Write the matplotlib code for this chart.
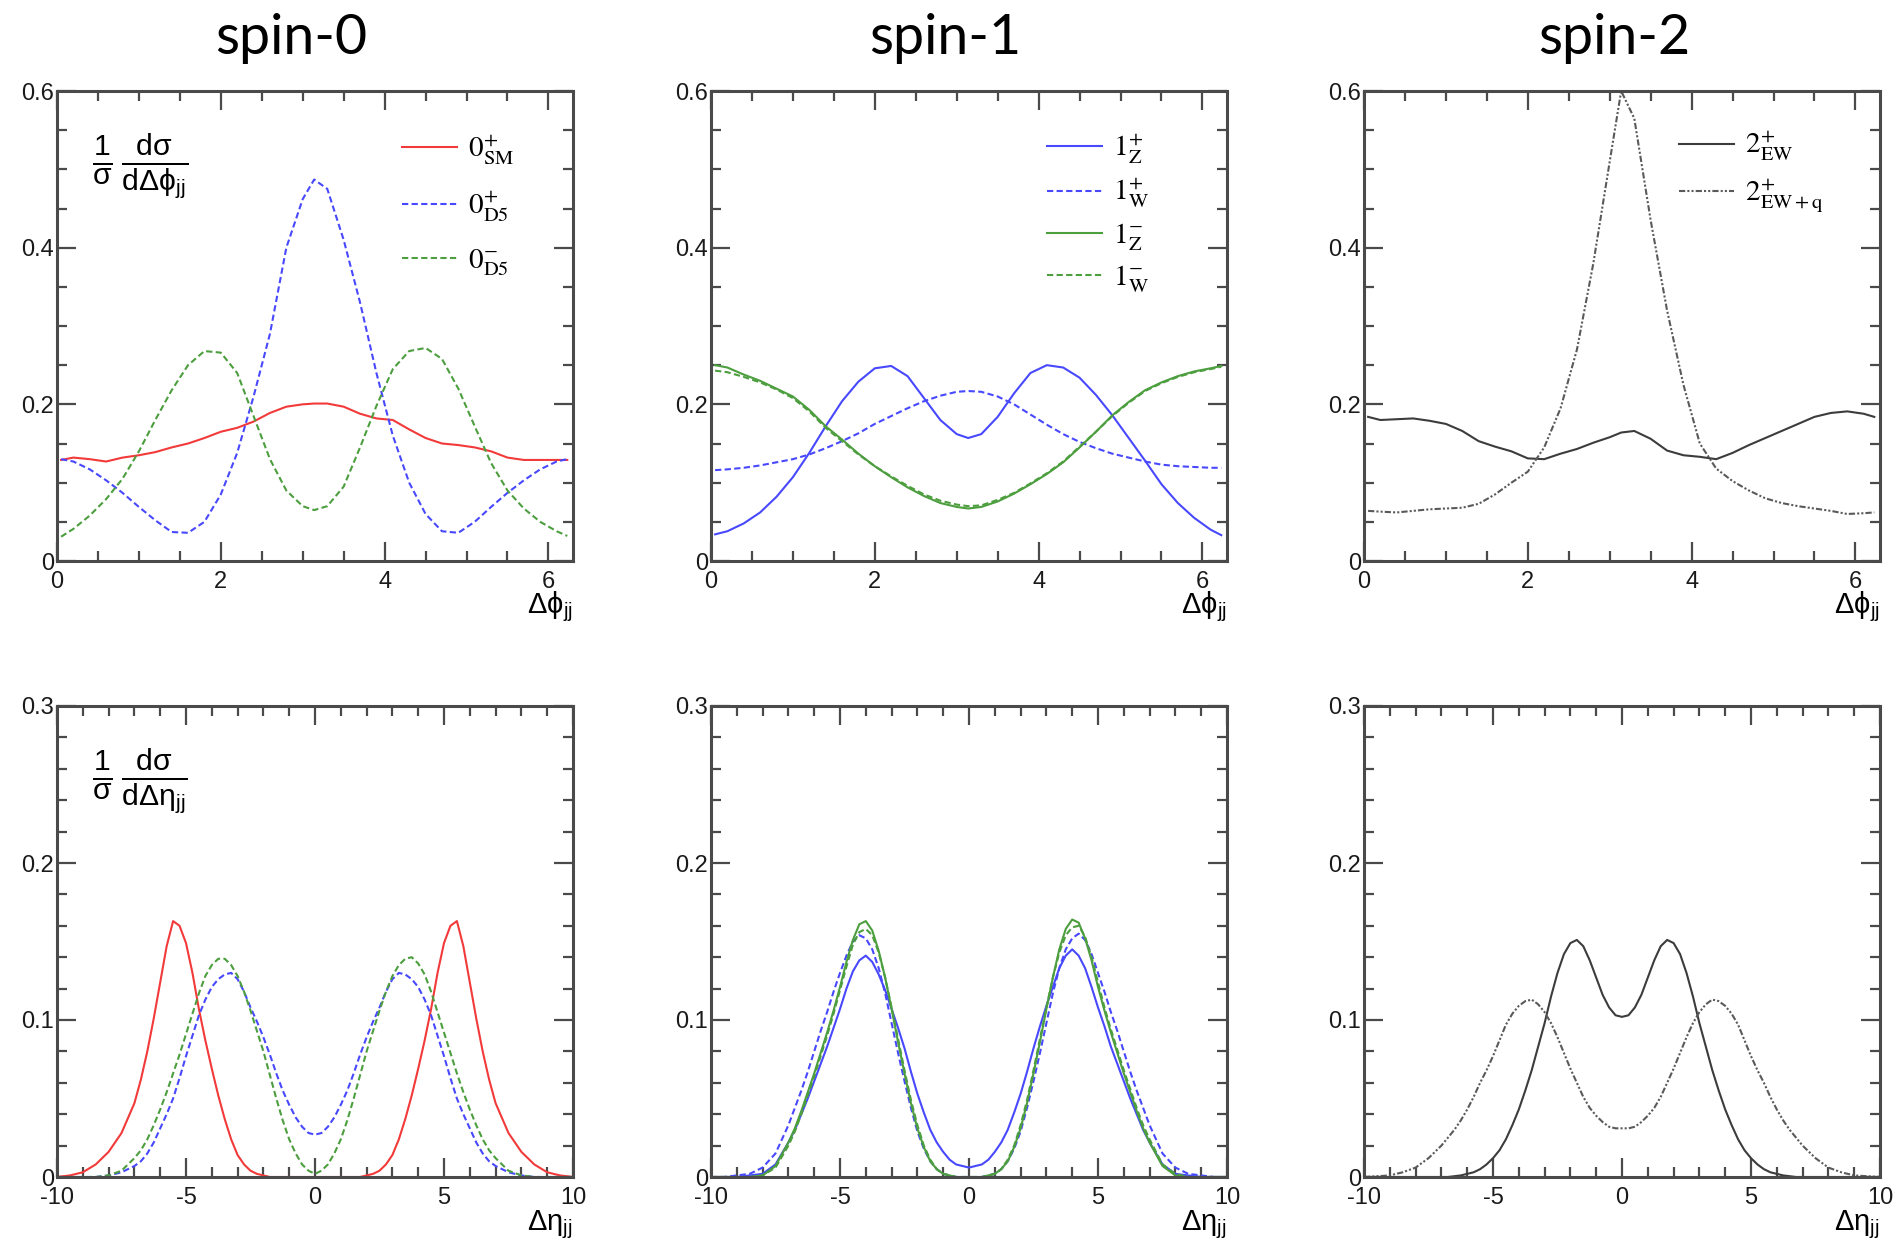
import matplotlib
matplotlib.use("Agg")
import numpy as np
import matplotlib.pyplot as plt
from matplotlib.ticker import MultipleLocator, FuncFormatter

plt.rcParams['font.family'] = ['Liberation Sans', 'DejaVu Sans']
plt.rcParams['axes.unicode_minus'] = False
plt.rcParams['mathtext.fontset'] = 'custom'
plt.rcParams['mathtext.rm'] = 'Liberation Sans'
plt.rcParams['mathtext.it'] = 'Liberation Sans:italic'
plt.rcParams['mathtext.bf'] = 'Liberation Sans:bold'

# ---------------- data ----------------
phi = [0.05, 0.2, 0.4, 0.6, 0.8, 1.0, 1.2, 1.4,
       1.6, 1.8, 2.0, 2.2, 2.4, 2.6, 2.8, 3.0,
       3.14, 3.3, 3.5, 3.7, 3.9, 4.1, 4.3, 4.5,
       4.7, 4.9, 5.1, 5.3, 5.5, 5.7, 5.9, 6.1,
       6.23]

# spin-0, dphi
phi_0p_sm = [0.129, 0.132, 0.130, 0.127, 0.132, 0.135, 0.139, 0.145,
             0.150, 0.157, 0.165, 0.170, 0.178, 0.189, 0.197, 0.200,
             0.201, 0.201, 0.197, 0.188, 0.182, 0.180, 0.168, 0.157,
             0.150, 0.148, 0.145, 0.140, 0.132, 0.129, 0.129, 0.129,
             0.129]
phi_0p_d5 = [0.130, 0.127, 0.117, 0.103, 0.087, 0.069, 0.052, 0.037,
             0.036, 0.050, 0.085, 0.138, 0.210, 0.290, 0.400, 0.462,
             0.487, 0.475, 0.410, 0.330, 0.240, 0.160, 0.100, 0.060,
             0.038, 0.036, 0.050, 0.069, 0.087, 0.103, 0.117, 0.127,
             0.130]
phi_0m_d5 = [0.031, 0.041, 0.058, 0.079, 0.105, 0.140, 0.180, 0.218,
             0.250, 0.268, 0.266, 0.240, 0.185, 0.130, 0.090, 0.070,
             0.065, 0.070, 0.095, 0.145, 0.198, 0.245, 0.268, 0.272,
             0.258, 0.220, 0.172, 0.125, 0.090, 0.067, 0.050, 0.038,
             0.032]

# spin-1, dphi
phi_1p_z = [0.034, 0.038, 0.048, 0.062, 0.082, 0.107, 0.138, 0.172,
            0.204, 0.229, 0.246, 0.249, 0.236, 0.208, 0.180, 0.162,
            0.157, 0.162, 0.184, 0.214, 0.240, 0.250, 0.247, 0.234,
            0.212, 0.186, 0.157, 0.128, 0.098, 0.074, 0.055, 0.040,
            0.033]
phi_1p_w = [0.116, 0.117, 0.119, 0.122, 0.126, 0.130, 0.136, 0.144,
            0.153, 0.163, 0.175, 0.185, 0.195, 0.204, 0.211, 0.216,
            0.217, 0.216, 0.210, 0.200, 0.187, 0.174, 0.162, 0.152,
            0.144, 0.137, 0.132, 0.127, 0.123, 0.121, 0.120, 0.119,
            0.119]
phi_1m_z = [0.250, 0.247, 0.238, 0.230, 0.220, 0.210, 0.193, 0.172,
            0.155, 0.137, 0.121, 0.107, 0.094, 0.083, 0.074, 0.069,
            0.067, 0.069, 0.076, 0.086, 0.098, 0.111, 0.126, 0.145,
            0.165, 0.186, 0.203, 0.218, 0.228, 0.236, 0.242, 0.246,
            0.249]
phi_1m_w = [0.243, 0.241, 0.235, 0.228, 0.219, 0.208, 0.191, 0.170,
            0.153, 0.136, 0.121, 0.108, 0.096, 0.085, 0.077, 0.072,
            0.070, 0.071, 0.078, 0.087, 0.099, 0.112, 0.127, 0.146,
            0.165, 0.185, 0.202, 0.217, 0.227, 0.235, 0.241, 0.245,
            0.248]

# spin-2, dphi
phi_2p_ew = [0.184, 0.180, 0.181, 0.182, 0.179, 0.175, 0.166, 0.153,
             0.146, 0.140, 0.131, 0.130, 0.137, 0.143, 0.151, 0.158,
             0.164, 0.166, 0.156, 0.141, 0.135, 0.133, 0.130, 0.138,
             0.148, 0.157, 0.166, 0.175, 0.184, 0.189, 0.191, 0.188,
             0.184]
phi_2p_ewq = [0.064, 0.063, 0.062, 0.064, 0.066, 0.067, 0.068, 0.073,
              0.085, 0.100, 0.114, 0.145, 0.195, 0.270, 0.380, 0.510,
              0.600, 0.565, 0.435, 0.320, 0.225, 0.150, 0.118, 0.102,
              0.090, 0.080, 0.074, 0.070, 0.067, 0.064, 0.060, 0.061,
              0.062]

# deta grid: coarse in the tails, 0.25 steps in the middle
eta = [-10, -9.5, -9, -8.5, -8, -7.5] + list(np.arange(-7, 7.01, 0.25)) + [7.5, 8, 8.5, 9, 9.5, 10]

# spin-0, deta
eta_0p_sm = ([0, 0.001, 0.003, 0.008, 0.016, 0.028] +
             [0.047, 0.062, 0.080, 0.101, 0.124, 0.147, 0.163, 0.160, 0.149, 0.130, 0.107, 0.087, 0.069,
              0.052, 0.037, 0.024, 0.014, 0.008, 0.004, 0.002, 0.001, 0, 0, 0, 0, 0, 0, 0, 0] +
             [0, 0, 0, 0, 0, 0, 0, 0.001, 0.002, 0.004, 0.008, 0.014, 0.024, 0.037, 0.052, 0.069, 0.087,
              0.107, 0.130, 0.149, 0.160, 0.163, 0.147, 0.124, 0.101, 0.080, 0.062, 0.047] +
             [0.028, 0.016, 0.008, 0.003, 0.001, 0])
eta_0p_d5 = ([0, 0, 0, 0, 0.001, 0.003] +
             [0.007, 0.010, 0.015, 0.022, 0.031, 0.040, 0.050, 0.063, 0.077, 0.090, 0.103, 0.113, 0.121,
              0.126, 0.129, 0.130, 0.126, 0.118, 0.108, 0.099, 0.089, 0.078, 0.066, 0.055, 0.046, 0.038,
              0.032, 0.028, 0.027] +
             [0.028, 0.032, 0.038, 0.046, 0.055, 0.066, 0.078, 0.089, 0.099, 0.108, 0.118, 0.126, 0.130,
              0.129, 0.126, 0.121, 0.113, 0.103, 0.090, 0.077, 0.063, 0.050, 0.040, 0.031, 0.022, 0.015,
              0.010, 0.007] +
             [0.003, 0.001, 0, 0, 0, 0])
eta_0m_d5 = ([0, 0, 0, 0, 0.001, 0.004] +
             [0.012, 0.017, 0.024, 0.033, 0.043, 0.054, 0.066, 0.078, 0.091, 0.104, 0.117, 0.128, 0.135,
              0.139, 0.139, 0.135, 0.128, 0.118, 0.106, 0.093, 0.080, 0.065, 0.050, 0.036, 0.024, 0.015,
              0.008, 0.004, 0.002] +
             [0.004, 0.008, 0.015, 0.024, 0.036, 0.050, 0.065, 0.080, 0.093, 0.106, 0.118, 0.128, 0.135,
              0.139, 0.140, 0.136, 0.129, 0.118, 0.105, 0.092, 0.079, 0.066, 0.054, 0.043, 0.033, 0.024,
              0.017, 0.012] +
             [0.004, 0.001, 0, 0, 0, 0])

# spin-1, deta
eta_1p_z = ([0, 0, 0, 0.001, 0.002, 0.008] +
            [0.022, 0.030, 0.040, 0.050, 0.061, 0.072, 0.083, 0.095, 0.107, 0.120, 0.131, 0.138, 0.141,
             0.137, 0.129, 0.119, 0.107, 0.095, 0.082, 0.067, 0.053, 0.041, 0.030, 0.022, 0.016, 0.011,
             0.008, 0.007, 0.006] +
            [0.007, 0.008, 0.011, 0.016, 0.022, 0.030, 0.041, 0.053, 0.067, 0.082, 0.096, 0.109, 0.121,
             0.133, 0.141, 0.145, 0.141, 0.133, 0.121, 0.108, 0.096, 0.083, 0.072, 0.061, 0.050, 0.040,
             0.030, 0.022] +
            [0.008, 0.002, 0.001, 0, 0, 0])
eta_1p_w = ([0, 0, 0.001, 0.002, 0.006, 0.015] +
            [0.033, 0.044, 0.055, 0.067, 0.080, 0.093, 0.105, 0.118, 0.130, 0.141, 0.150, 0.154, 0.152,
             0.145, 0.133, 0.117, 0.098, 0.079, 0.061, 0.044, 0.029, 0.018, 0.010, 0.005, 0.002, 0.001,
             0, 0, 0] +
            [0, 0, 0.001, 0.002, 0.005, 0.010, 0.018, 0.029, 0.044, 0.061, 0.079, 0.098, 0.117, 0.133,
             0.145, 0.152, 0.155, 0.151, 0.142, 0.130, 0.118, 0.105, 0.093, 0.080, 0.067, 0.055, 0.044,
             0.033] +
            [0.015, 0.006, 0.002, 0.001, 0, 0])
eta_1m_z = ([0, 0, 0, 0, 0.001, 0.007] +
            [0.022, 0.031, 0.042, 0.054, 0.066, 0.079, 0.092, 0.106, 0.121, 0.137, 0.151, 0.161, 0.163,
             0.157, 0.144, 0.127, 0.107, 0.086, 0.066, 0.047, 0.031, 0.019, 0.010, 0.005, 0.002, 0.001,
             0, 0, 0] +
            [0, 0, 0.001, 0.002, 0.005, 0.010, 0.019, 0.031, 0.047, 0.066, 0.086, 0.107, 0.127, 0.145,
             0.158, 0.164, 0.162, 0.152, 0.138, 0.121, 0.106, 0.092, 0.079, 0.066, 0.054, 0.042, 0.031,
             0.022] +
            [0.007, 0.001, 0, 0, 0, 0])
eta_1m_w = ([0, 0, 0, 0, 0.001, 0.006] +
            [0.020, 0.029, 0.040, 0.052, 0.064, 0.077, 0.090, 0.104, 0.119, 0.134, 0.148, 0.156, 0.158,
             0.154, 0.143, 0.127, 0.108, 0.088, 0.068, 0.049, 0.033, 0.020, 0.011, 0.005, 0.002, 0.001,
             0, 0, 0] +
            [0, 0, 0.001, 0.002, 0.005, 0.011, 0.020, 0.033, 0.049, 0.068, 0.088, 0.108, 0.127, 0.143,
             0.154, 0.159, 0.160, 0.153, 0.140, 0.124, 0.108, 0.094, 0.081, 0.068, 0.056, 0.044, 0.033,
             0.024] +
            [0.008, 0.002, 0, 0, 0, 0])

# spin-2, deta
eta_2p_ew = ([0, 0, 0, 0, 0, 0] +
             [0, 0, 0.0005, 0.001, 0.002, 0.003, 0.005, 0.008, 0.012, 0.017, 0.024, 0.033, 0.043, 0.055,
              0.068, 0.083, 0.098, 0.115, 0.130, 0.142, 0.149, 0.151, 0.147, 0.138, 0.127, 0.116, 0.108,
              0.103, 0.102] +
             [0.103, 0.108, 0.116, 0.127, 0.138, 0.147, 0.151, 0.149, 0.142, 0.130, 0.115, 0.098, 0.083,
              0.068, 0.055, 0.043, 0.033, 0.024, 0.017, 0.012, 0.008, 0.005, 0.003, 0.002, 0.001, 0.0005,
              0, 0] +
             [0, 0, 0, 0, 0, 0])
eta_2p_ewq = ([0, 0.0005, 0.001, 0.003, 0.006, 0.012] +
              [0.020, 0.025, 0.030, 0.036, 0.043, 0.051, 0.060, 0.068, 0.077, 0.087, 0.097, 0.104, 0.109,
               0.112, 0.113, 0.110, 0.105, 0.098, 0.089, 0.079, 0.069, 0.060, 0.051, 0.044, 0.039, 0.035,
               0.032, 0.031, 0.031] +
              [0.031, 0.032, 0.035, 0.039, 0.044, 0.051, 0.060, 0.069, 0.079, 0.089, 0.098, 0.105, 0.110,
               0.113, 0.112, 0.109, 0.104, 0.097, 0.087, 0.077, 0.068, 0.060, 0.051, 0.043, 0.036, 0.030,
               0.025, 0.020] +
              [0.012, 0.006, 0.003, 0.001, 0.0005, 0])

titles = ['spin-0', 'spin-1', 'spin-2']
labels_0 = [r'$0^{+}_{\rm SM}$', r'$0^{+}_{\rm D5}$', r'$0^{-}_{\rm D5}$']
labels_1 = [r'$1^{+}_{\rm Z}$', r'$1^{+}_{\rm W}$', r'$1^{-}_{\rm Z}$', r'$1^{-}_{\rm W}$']
labels_2 = [r'$2^{+}_{\rm EW}$', r'$2^{+}_{\rm EW+q}$']

RED = '#f23a3a'
BLUE = '#4848ff'
GREEN = '#4c9e3e'
DARK = '#3c3c3c'
GREY = '#5a5a5a'
dash = (0, (3, 1.6))
dashdot = (0, (3, 1, 1, 1, 1, 1))
LW = 1.5

fig = plt.figure(figsize=(18.99, 12.57), dpi=100)
W, H = 1899.0, 1257.0
lefts = [57, 711, 1364]
pw = 516
rows = [(91, 561), (706, 1177)]


def fmt(v, pos):
    if abs(v) < 1e-9:
        return '0'
    return f'{v:g}'


def style(ax, top):
    ax.tick_params(which='both', direction='in', top=True, right=True,
                   width=1.6, color='#4a4a4a', labelsize=17, labelcolor='#1a1a1a')
    ax.tick_params(which='major', length=14)
    ax.tick_params(which='minor', length=7)
    ax.tick_params(axis='y', pad=2)
    ax.tick_params(axis='x', pad=7)
    for s in ax.spines.values():
        s.set_linewidth(2.2)
        s.set_color('#4a4a4a')
    if top:
        ax.set_xlim(0, 6.3)
        ax.set_ylim(0, 0.6)
        ax.xaxis.set_major_locator(MultipleLocator(2))
        ax.xaxis.set_minor_locator(MultipleLocator(0.5))
        ax.yaxis.set_major_locator(MultipleLocator(0.2))
        ax.yaxis.set_minor_locator(MultipleLocator(0.05))
        ax.text(1.0, -0.06, r'$\mathrm{\Delta\phi_{jj}}$', transform=ax.transAxes,
                ha='right', va='top', fontsize=21)
    else:
        ax.set_xlim(-10, 10)
        ax.set_ylim(0, 0.3)
        ax.xaxis.set_major_locator(MultipleLocator(5))
        ax.xaxis.set_minor_locator(MultipleLocator(1))
        ax.yaxis.set_major_locator(MultipleLocator(0.1))
        ax.yaxis.set_minor_locator(MultipleLocator(0.02))
        ax.text(1.0, -0.066, r'$\mathrm{\Delta\eta_{jj}}$', transform=ax.transAxes,
                ha='right', va='top', fontsize=21)
    ax.xaxis.set_major_formatter(FuncFormatter(fmt))
    ax.yaxis.set_major_formatter(FuncFormatter(fmt))


axes = {}
for r, (t, b) in enumerate(rows):
    for c in range(3):
        ax = fig.add_axes([lefts[c] / W, 1 - b / H, pw / W, (b - t) / H])
        style(ax, r == 0)
        axes[(r, c)] = ax

# top row
ax = axes[(0, 0)]
ax.plot(phi, phi_0p_sm, color=RED, lw=LW, label=labels_0[0])
ax.plot(phi, phi_0p_d5, color=BLUE, lw=LW, ls=dash, label=labels_0[1])
ax.plot(phi, phi_0m_d5, color=GREEN, lw=LW, ls=dash, label=labels_0[2])
ax.text(0.068, 0.915, r'$\frac{1}{\mathrm{\sigma}}\,\frac{\mathrm{d\sigma}}{\mathrm{d\Delta\phi_{jj}}}$',
        transform=ax.transAxes, ha='left', va='top', fontsize=31)

ax = axes[(0, 1)]
ax.plot(phi, phi_1p_z, color=BLUE, lw=LW, label=labels_1[0])
ax.plot(phi, phi_1p_w, color=BLUE, lw=LW, ls=dash, label=labels_1[1])
ax.plot(phi, phi_1m_z, color=GREEN, lw=LW, label=labels_1[2])
ax.plot(phi, phi_1m_w, color=GREEN, lw=LW, ls=dash, label=labels_1[3])

ax = axes[(0, 2)]
ax.plot(phi, phi_2p_ew, color=DARK, lw=LW, label=labels_2[0])
ax.plot(phi, phi_2p_ewq, color=GREY, lw=LW, ls=dashdot, label=labels_2[1])

# bottom row
ax = axes[(1, 0)]
ax.plot(eta, eta_0p_sm, color=RED, lw=LW)
ax.plot(eta, eta_0p_d5, color=BLUE, lw=LW, ls=dash)
ax.plot(eta, eta_0m_d5, color=GREEN, lw=LW, ls=dash)
ax.text(0.068, 0.915, r'$\frac{1}{\mathrm{\sigma}}\,\frac{\mathrm{d\sigma}}{\mathrm{d\Delta\eta_{jj}}}$',
        transform=ax.transAxes, ha='left', va='top', fontsize=31)

ax = axes[(1, 1)]
ax.plot(eta, eta_1p_z, color=BLUE, lw=LW)
ax.plot(eta, eta_1p_w, color=BLUE, lw=LW, ls=dash)
ax.plot(eta, eta_1m_z, color=GREEN, lw=LW)
ax.plot(eta, eta_1m_w, color=GREEN, lw=LW, ls=dash)

ax = axes[(1, 2)]
ax.plot(eta, eta_2p_ew, color=DARK, lw=LW)
ax.plot(eta, eta_2p_ewq, color=GREY, lw=LW, ls=dashdot)

# legends
for c, lx, ly, lsp in zip(range(3), [0.885, 0.848, 0.89], [0.91, 0.912, 0.917], [0.75, 0.35, 0.45]):
    leg = axes[(0, c)].legend(loc='upper right', bbox_to_anchor=(lx, ly), frameon=False,
                              fontsize=21, handlelength=1.9, handletextpad=0.35,
                              labelspacing=lsp, borderaxespad=0, borderpad=0)
    for txt in leg.get_texts():
        txt.set_math_fontfamily('stix')

# column titles
for c, x in enumerate([291, 945, 1614]):
    fig.text(x / W, 1 - 38 / H, titles[c], ha='center', va='center',
             fontsize=40, family=['Lato', 'DejaVu Sans'])

fig.savefig('out.png', dpi=100)
